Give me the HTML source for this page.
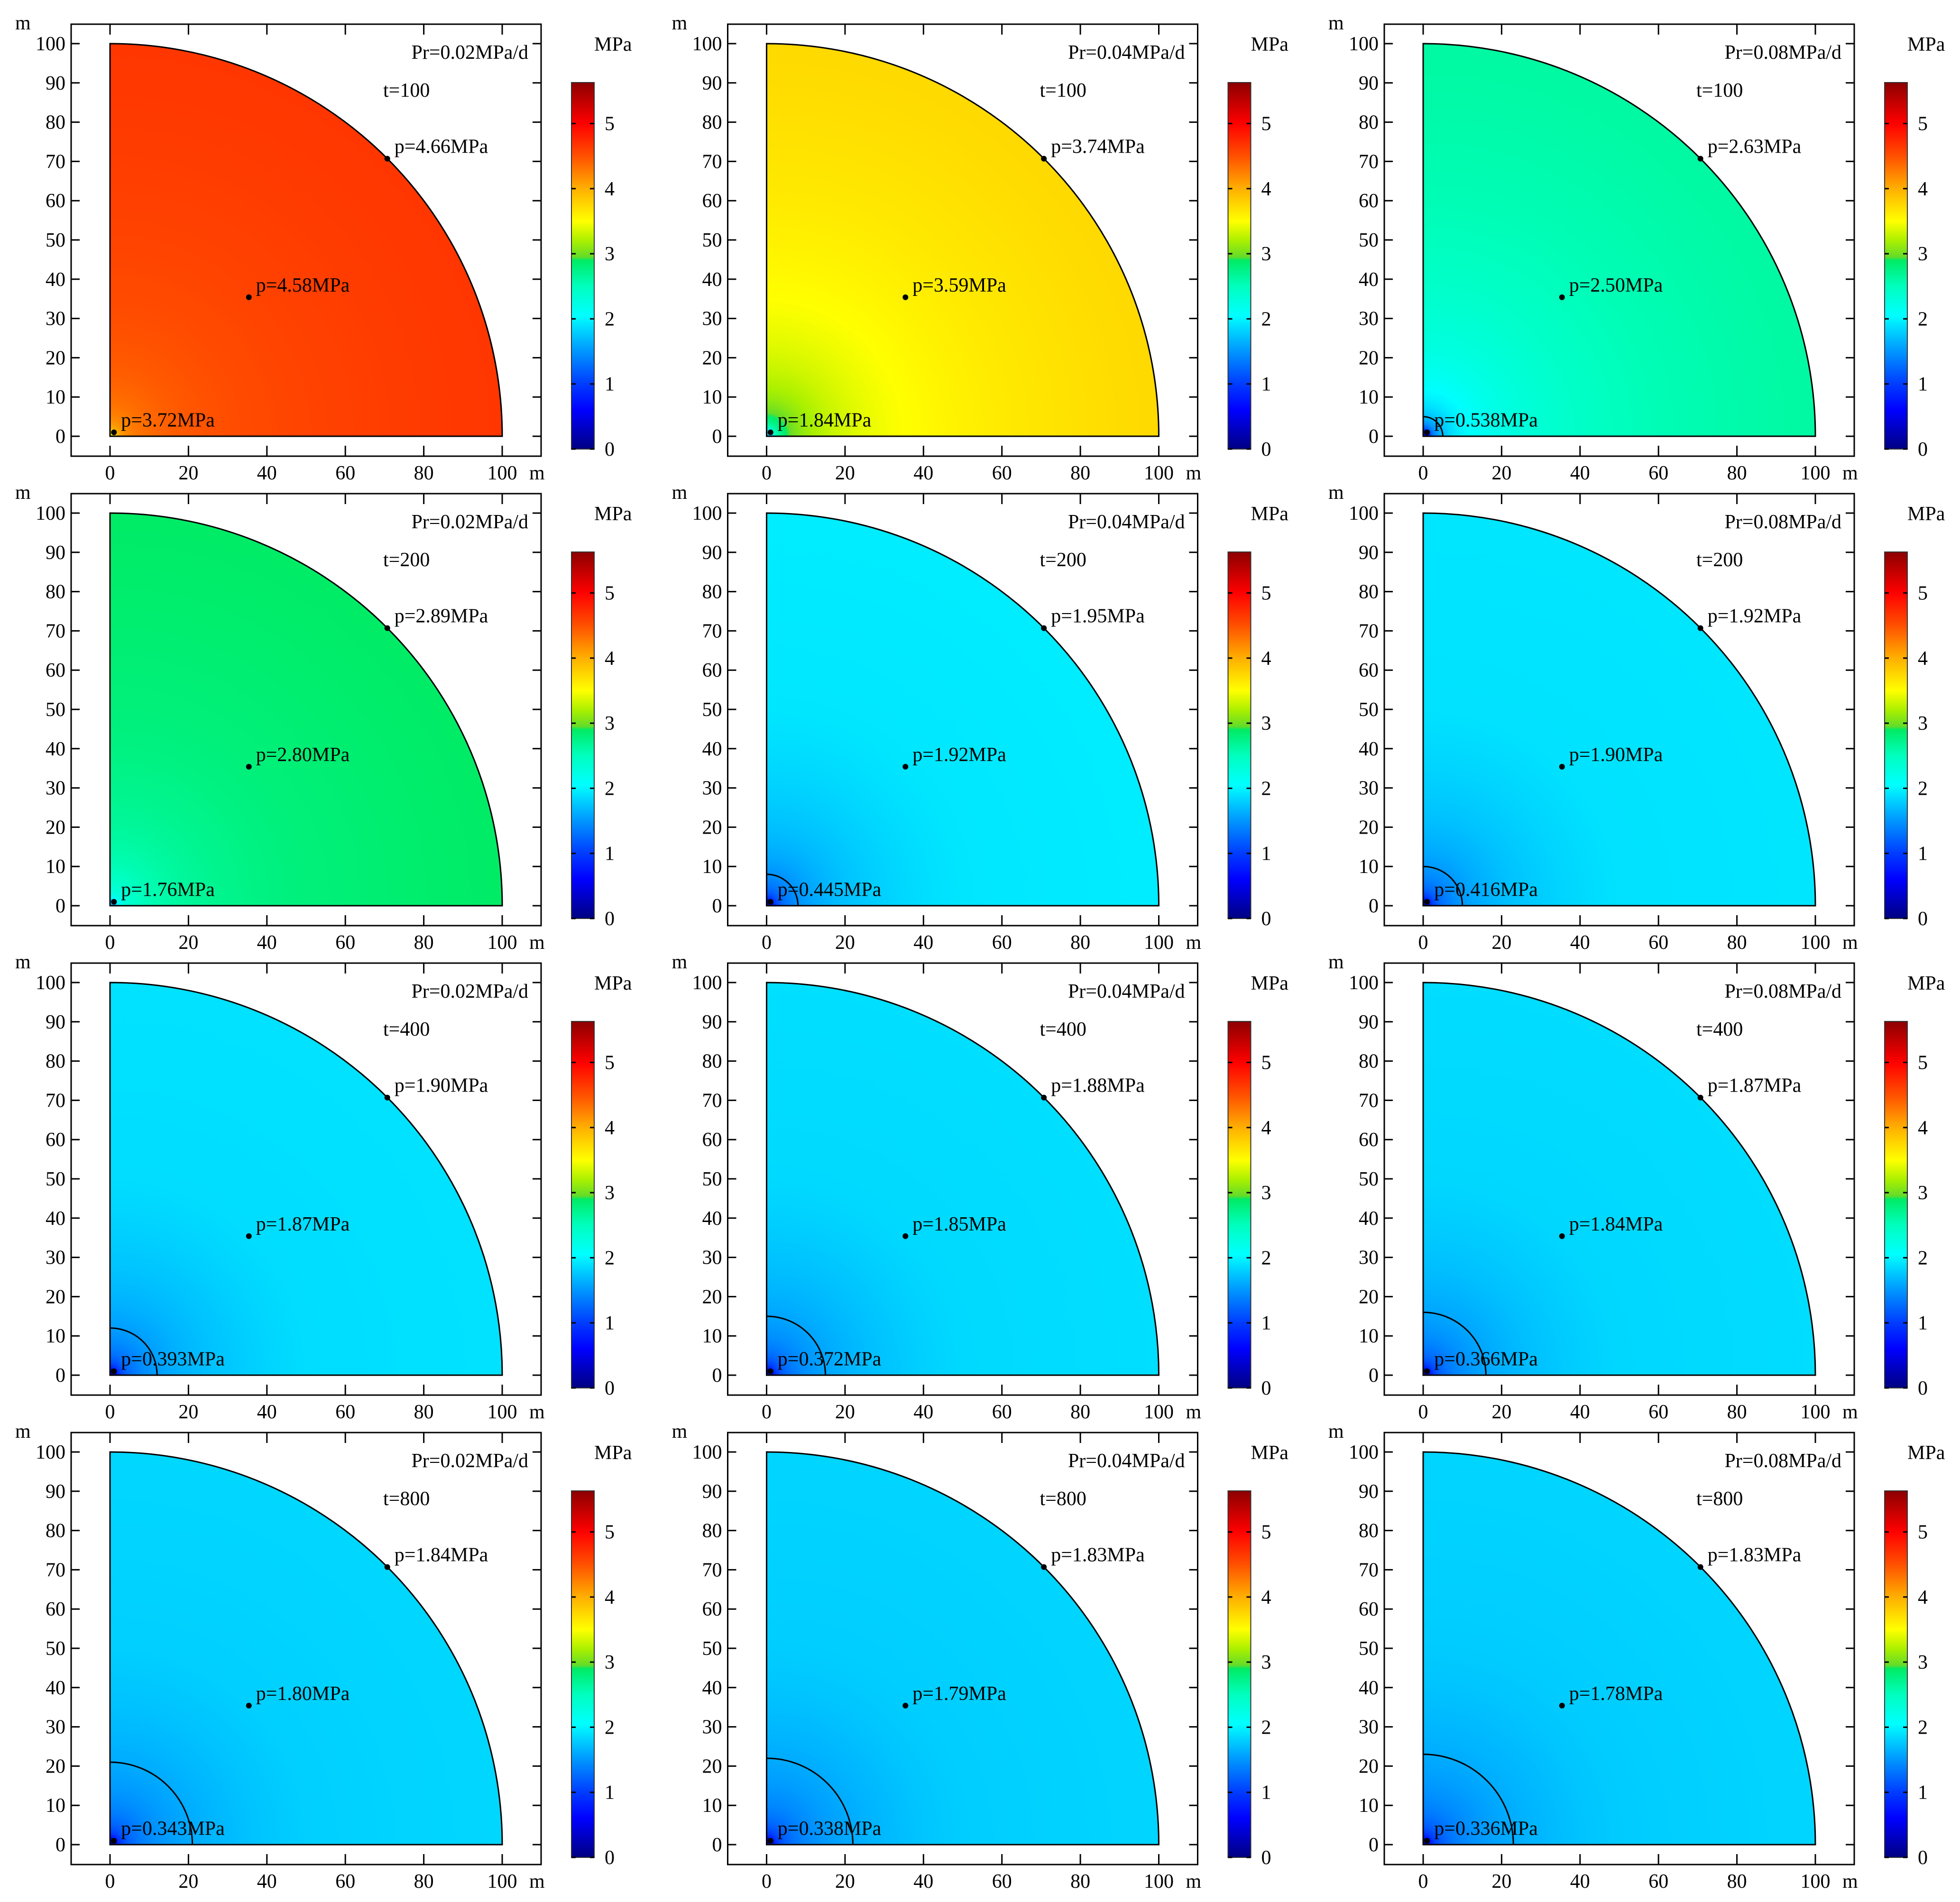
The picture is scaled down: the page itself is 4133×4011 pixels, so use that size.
<!DOCTYPE html>
<html><head><meta charset="utf-8"><title>Pressure distribution panels</title>
<style>html,body{margin:0;padding:0;background:#fff}svg{display:block}text{font-family:"Liberation Serif",serif;font-size:42px;fill:#000}</style>
</head><body>
<svg id="fig" xmlns="http://www.w3.org/2000/svg" width="4133" height="4011" viewBox="0 0 4133 4011"><defs id="defs"></defs></svg>
<script>
const rateLabels = ["0.02", "0.04", "0.08"];
const timeLabels = [100, 200, 400, 800];
const pWell = [[3.72, 1.84, 0.538], [1.76, 0.445, 0.416], [0.393, 0.372, 0.366], [0.343, 0.338, 0.336]];
const pWellText = [["3.72", "1.84", "0.538"], ["1.76", "0.445", "0.416"], ["0.393", "0.372", "0.366"], ["0.343", "0.338", "0.336"]];
const pMid = [[4.58, 3.59, 2.50], [2.80, 1.92, 1.90], [1.87, 1.85, 1.84], [1.80, 1.79, 1.78]];
const pMidText = [["4.58", "3.59", "2.50"], ["2.80", "1.92", "1.90"], ["1.87", "1.85", "1.84"], ["1.80", "1.79", "1.78"]];
const pEdge = [[4.66, 3.74, 2.63], [2.89, 1.95, 1.92], [1.90, 1.88, 1.87], [1.84, 1.83, 1.83]];
const pEdgeText = [["4.66", "3.74", "2.63"], ["2.89", "1.95", "1.92"], ["1.90", "1.88", "1.87"], ["1.84", "1.83", "1.83"]];
const contourR = [[0, 0, 5], [0, 8, 10], [12, 15, 16], [21, 22, 23]];
const xTicks = [0, 20, 40, 60, 80, 100];
const yTicks = [0, 10, 20, 30, 40, 50, 60, 70, 80, 90, 100];
const cbTicks = [0, 1, 2, 3, 4, 5];
const cbMax = 5.63;
const cmapVals = [0, 0.6, 1.0, 1.5, 2.05, 2.5, 2.9, 2.95, 3.2, 3.5, 4.0, 4.5, 5.0, 5.63];
const cmapCols = [[0,0,130],[0,0,255],[0,60,255],[0,150,255],[0,255,255],[0,255,190],[0,235,100],[100,220,40],[170,240,0],[255,255,0],[255,175,0],[255,80,0],[255,0,0],[140,0,0]];

const NS = "http://www.w3.org/2000/svg";
const svg = document.getElementById("fig");
const defs = document.getElementById("defs");
function mk(tag, attrs, parent) {
  const e = document.createElementNS(NS, tag);
  for (const k in attrs) e.setAttribute(k, attrs[k]);
  (parent || svg).appendChild(e);
  return e;
}
function cmap(v) {
  v = Math.max(0, Math.min(cbMax, v));
  let i = 0;
  while (i < cmapVals.length - 2 && v > cmapVals[i + 1]) i++;
  const t = (v - cmapVals[i]) / (cmapVals[i + 1] - cmapVals[i]);
  const a = cmapCols[i], b = cmapCols[i + 1];
  return "rgb(" + a.map((c, k) => Math.round(c + (b[k] - c) * t)).join(",") + ")";
}
const cbg = mk("linearGradient", { id: "cbgrad", x1: 0, y1: 1, x2: 0, y2: 0 }, defs);
cmapVals.forEach(v => mk("stop", { offset: v / cbMax, "stop-color": cmap(v) }, cbg));

const colPitch = 1384.5, rowPitch = 990;
for (let row = 0; row < 4; row++) {
  for (let col = 0; col < 3; col++) {
    const ox = col * colPitch, oy = row * rowPitch;
    const g = mk("g", {});
    
    
    const X = v => ox + 232 + v * 8.27;
    const Y = v => oy + 920 - v * 8.28;
    const fL = ox + 150, fR = ox + 1141, fT = oy + 51, fB = oy + 962;
    const pw = pWell[row][col], pm = pMid[row][col], pe = pEdge[row][col];
    const gid = "rg" + row + col;
    const rg = mk("radialGradient", { id: gid, gradientUnits: "userSpaceOnUse", cx: X(0), cy: Y(0), r: 100 * 8.27 }, defs);
    const rs = [0, 1, 1.4, 2, 3, 4, 5, 6, 8, 10, 12, 15, 18, 22, 27, 35, 42, 50, 60, 70, 85, 100];
    rs.forEach(r => {
      let p;
      if (r <= 1.4) p = pw - (1.4 - r) * 0.1;
      else if (r <= 50) p = pw + (pm - pw) * Math.sqrt(Math.log(r / 1.4) / Math.log(50 / 1.4));
      else p = pm + (pe - pm) * Math.log(r / 50) / Math.log(2);
      mk("stop", { offset: r / 100, "stop-color": cmap(p) }, rg);
    });
    const sector = mk("path", { d: `M${X(0)},${Y(0)} L${X(0)},${Y(100)} A${100 * 8.27},${100 * 8.28} 0 0 1 ${X(100)},${Y(0)} Z`, fill: `url(#${gid})`, stroke: "#000", "stroke-width": 3 }, g);
    
    
    const cr = contourR[row][col];
    if (cr > 0) {
      const c = mk("path", { d: `M${X(0)},${Y(cr)} A${cr * 8.27},${cr * 8.28} 0 0 1 ${X(cr)},${Y(0)}`, fill: "none", stroke: "#000", "stroke-width": 3 }, g);
      
      
    }
    const fr = mk("rect", { x: fL, y: fT, width: fR - fL, height: fB - fT, fill: "none", stroke: "#000", "stroke-width": 3 }, g);
    
    
    xTicks.forEach(v => {
      mk("line", { x1: X(v), y1: fB, x2: X(v), y2: fB - 22, stroke: "#000", "stroke-width": 3 }, g);
      mk("line", { x1: X(v), y1: fT, x2: X(v), y2: fT + 22, stroke: "#000", "stroke-width": 3 }, g);
      const t = mk("text", { x: X(v), y: oy + 1011, "text-anchor": "middle" }, g);
      
      
      t.textContent = v;
    });
    yTicks.forEach(v => {
      mk("line", { x1: fL, y1: Y(v), x2: fL + 18, y2: Y(v), stroke: "#000", "stroke-width": 3 }, g);
      mk("line", { x1: fR, y1: Y(v), x2: fR - 18, y2: Y(v), stroke: "#000", "stroke-width": 3 }, g);
      const t = mk("text", { x: ox + 138, y: Y(v) + 14, "text-anchor": "end" }, g);
      
      
      t.textContent = v;
    });
    const mx = mk("text", { x: ox + 1116, y: oy + 1011 }, g);
    
    
    mx.textContent = "m";
    const my = mk("text", { x: ox + 32, y: oy + 62 }, g);
    
    
    my.textContent = "m";
    const tp = mk("text", { x: ox + 1114, y: oy + 124, "text-anchor": "end" }, g);
    
    
    tp.textContent = "Pr=" + rateLabels[col] + "MPa/d";
    const tt = mk("text", { x: ox + 808, y: oy + 204 }, g);
    
    
    tt.textContent = "t=" + timeLabels[row];
    const pts = [[1, 1, pWellText[row][col], 'well-point'], [35.4, 35.4, pMidText[row][col], 'mid-point'], [70.7, 70.7, pEdgeText[row][col], 'edge-point']];
    pts.forEach(p => {
      const d = mk("circle", { cx: X(p[0]), cy: Y(p[1]), r: 6, fill: "#000" }, g);
      
      
      const l = mk("text", { x: X(p[0]) + 15, y: Y(p[1]) - 12 }, g);
      
      
      l.textContent = "p=" + p[2] + "MPa";
    });
    const cbx = ox + 1205, cbT = oy + 174, cbB = oy + 947;
    const CB = v => cbB - v / cbMax * (cbB - cbT);
    const cb = mk("rect", { x: cbx, y: cbT, width: 48, height: cbB - cbT, fill: "url(#cbgrad)", stroke: "#333", "stroke-width": 2 }, g);
    
    
    cbTicks.forEach(v => {
      mk("line", { x1: cbx, y1: CB(v), x2: cbx + 9, y2: CB(v), stroke: "#000", "stroke-width": 3 }, g);
      mk("line", { x1: cbx + 39, y1: CB(v), x2: cbx + 48, y2: CB(v), stroke: "#000", "stroke-width": 3 }, g);
      const t = mk("text", { x: ox + 1275, y: CB(v) + 14 }, g);
      
      
      t.textContent = v;
    });
    const cu = mk("text", { x: ox + 1253, y: oy + 107 }, g);
    
    
    cu.textContent = "MPa";
  }
}
</script>
</body></html>
